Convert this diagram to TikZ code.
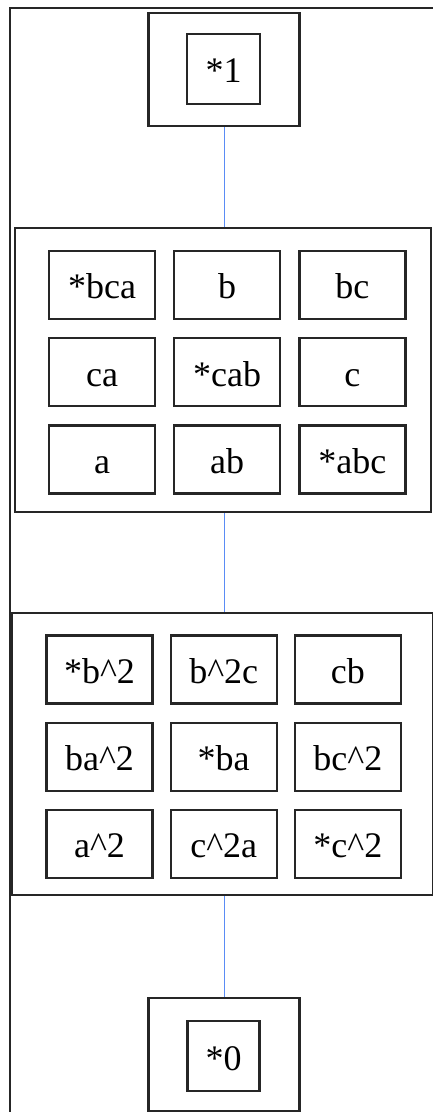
\documentclass[tikz,border=0pt]{standalone}
\usepackage{fontspec}
\setmainfont{Liberation Serif}
\usepackage{tikz}
\usetikzlibrary{positioning}
\definecolor{edgeblue}{RGB}{90,140,245}
\tikzstyle{frame} = [draw=black!85, line width=1pt]
\tikzstyle{group} = [rectangle, draw=black!85, line width=1.1pt, inner sep=0pt]
\tikzstyle{cell} = [rectangle, minimum width=53pt, minimum height=34pt, inner sep=0pt, text height=14pt, text depth=0pt, text centered, draw=black!85, line width=1.1pt]
\tikzstyle{edge} = [edgeblue, line width=0.75pt]

\begin{document}
\begin{tikzpicture}[x=0.5pt, y=-0.5pt, font=\fontsize{18}{21}\selectfont]
\useasboundingbox (0,0) rectangle (433,1112);
% Outer frame
\draw [frame] (10,1130) -- (10,8) -- (450,8);
% Top
\node (one) [group, minimum width=75.5pt, minimum height=56.5pt] at (224,69.5) {};
\node (oneIn) [cell, minimum width=36.5pt, minimum height=35pt] at (223.5,69) {*1};
% First level
\node (lvlA) [group, minimum width=208pt, minimum height=142pt] at (223,370) {};
\node (bca) [cell] at (102,285) {*bca};
\node (b) [cell, right=8.5pt of bca] {b};
\node (bc) [cell, right=8.5pt of b] {bc};
\node (ca) [cell, below=8.5pt of bca] {ca};
\node (cab) [cell, below=8.5pt of b] {*cab};
\node (c) [cell, below=8.5pt of bc] {c};
\node (a) [cell, below=8.5pt of ca] {a};
\node (ab) [cell, below=8.5pt of cab] {ab};
\node (abc) [cell, below=8.5pt of c] {*abc};
% Second level
\node (lvlB) [group, minimum width=210.5pt, minimum height=141pt] at (222.5,754) {};
\node (bsq) [cell] at (99.5,669.5) {*b\textasciicircum 2};
\node (bsqc) [cell, right=8pt of bsq] {b\textasciicircum 2c};
\node (cb) [cell, right=8pt of bsqc] {cb};
\node (basq) [cell, below=8.5pt of bsq] {ba\textasciicircum 2};
\node (ba) [cell, below=8.5pt of bsqc] {*ba};
\node (bcsq) [cell, below=8.5pt of cb] {bc\textasciicircum 2};
\node (asq) [cell, below=8.5pt of basq] {a\textasciicircum 2};
\node (csqa) [cell, below=8.5pt of ba] {c\textasciicircum 2a};
\node (csq) [cell, below=8.5pt of bcsq] {*c\textasciicircum 2};
% Bottom
\node (zero) [group, minimum width=75.5pt, minimum height=56.5pt] at (224,1054.5) {};
\node (zeroIn) [cell, minimum width=36pt, minimum height=35pt] at (223.5,1056) {*0};
% Connect levels
\draw [edge] ([xshift=0.25pt]one.south) -- ([xshift=0.25pt]one.south |- lvlA.north);
\draw [edge] ([xshift=0.25pt]lvlA.south -| one) -- ([xshift=0.25pt]lvlB.north -| one);
\draw [edge] ([xshift=0.25pt]lvlB.south -| zero) -- ([xshift=0.25pt]zero.north);
\end{tikzpicture}
\end{document}
